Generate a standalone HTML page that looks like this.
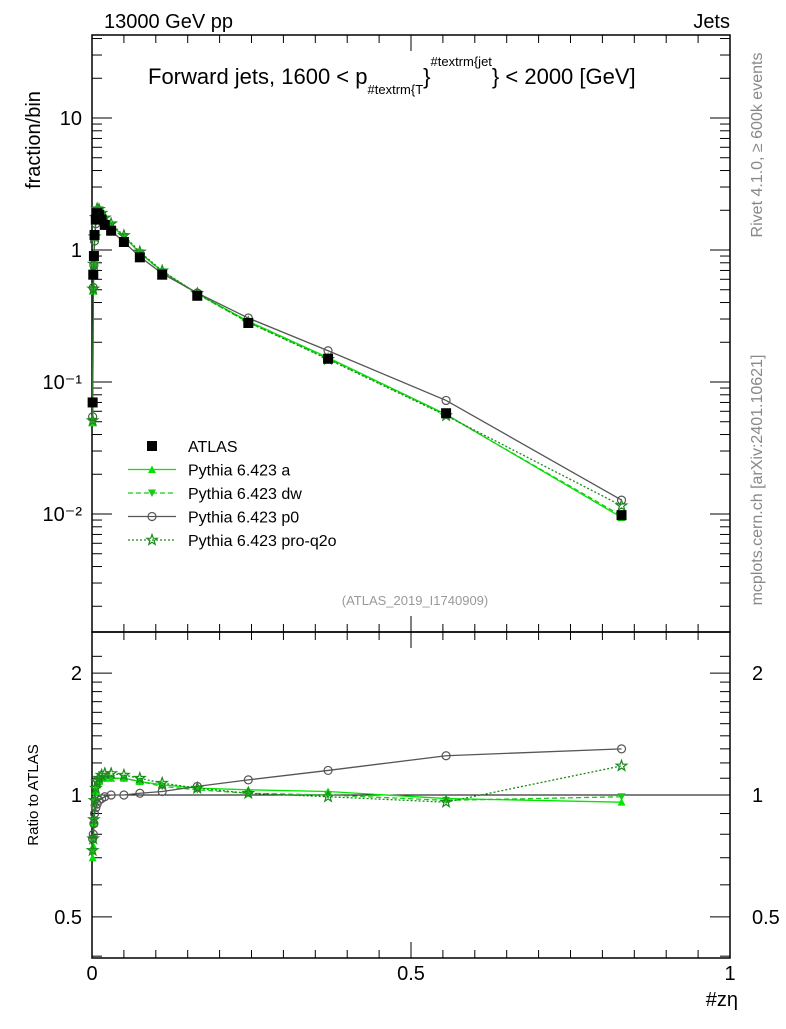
<!DOCTYPE html>
<html><head><meta charset="utf-8">
<style>
body{margin:0;background:#fff;}
svg text{font-family:"Liberation Sans",Arial,sans-serif;}
</style></head>
<body>
<svg id="chart" width="786" height="1024" viewBox="0 0 786 1024" xmlns="http://www.w3.org/2000/svg">
<g id="main"></g>
<g id="ratio"></g>
<text x="104" y="28" font-size="20">13000 GeV pp</text>
<text x="730" y="28" font-size="20" text-anchor="end">Jets</text>
<text x="148" y="84" font-size="22">Forward jets, 1600 &lt; p<tspan font-size="13" dy="10">#textrm{T</tspan><tspan font-size="22" dy="-10">}</tspan><tspan font-size="13" dy="-18">#textrm{jet</tspan><tspan font-size="22" dy="18">} &lt; 2000 [GeV]</tspan></text>
<text transform="translate(40,140) rotate(-90)" font-size="20" text-anchor="middle">fraction/bin</text>
<text transform="translate(38,795) rotate(-90)" font-size="15" text-anchor="middle">Ratio to ATLAS</text>
<text x="738" y="1006" font-size="20" text-anchor="end">#zη</text>
<text transform="translate(762,145) rotate(-90)" font-size="16" fill="#888" text-anchor="middle">Rivet 4.1.0, ≥ 600k events</text>
<text transform="translate(762,480) rotate(-90)" font-size="16" fill="#888" text-anchor="middle">mcplots.cern.ch [arXiv:2401.10621]</text>
<text x="415" y="605" font-size="13" fill="#999" text-anchor="middle">(ATLAS_2019_I1740909)</text>
</svg>
<script>
const xs    = [0.001,0.002,0.003,0.004,0.006,0.008,0.011,0.015,0.02,0.03,0.05,0.075,0.11,0.165,0.245,0.37,0.555,0.83];
const atlas = [0.07,0.65,0.9,1.3,1.7,1.9,1.85,1.7,1.55,1.4,1.15,0.88,0.65,0.45,0.28,0.15,0.058,0.0098];
const rA    = [0.7,0.75,0.85,0.95,1.02,1.06,1.08,1.1,1.1,1.1,1.1,1.08,1.06,1.04,1.03,1.02,0.98,0.96];
const rDW   = [0.72,0.77,0.86,0.96,1.02,1.06,1.08,1.1,1.1,1.1,1.1,1.08,1.05,1.03,1.01,1.0,0.97,0.99];
const rP0   = [0.78,0.8,0.85,0.9,0.93,0.95,0.97,0.98,0.99,1.0,1.0,1.01,1.02,1.05,1.09,1.15,1.25,1.3];
const rQ2O  = [0.73,0.78,0.87,0.97,1.04,1.08,1.1,1.12,1.13,1.13,1.12,1.1,1.07,1.04,1.01,0.99,0.96,1.18];
const xTicks = [0,0.5,1];
const mainTicks = [0.01,0.1,1,10];
const mainLbl = ["10⁻²","10⁻¹","1","10"];
const ratioTicks = [0.5,1,2];

const NS="http://www.w3.org/2000/svg";
const L=92,R=730,MT=35,MB=632,RT=632,RB=958;
const X=x=>L+(R-L)*x;
const YM=v=>250-132*Math.log10(v);
const YR=v=>795-405*Math.log10(v);
function mk(p,t,a){const e=document.createElementNS(NS,t);for(const k in a)e.setAttribute(k,a[k]);p.appendChild(e);return e;}
const main=document.getElementById('main'), ratio=document.getElementById('ratio');

let f1=mk(main,'rect',{x:L,y:MT,width:R-L,height:MB-MT,fill:'none',stroke:'#000','stroke-width':1.5});


let f2=mk(ratio,'rect',{x:L,y:RT,width:R-L,height:RB-RT,fill:'none',stroke:'#000','stroke-width':1.5});



for(let i=0;i<=20;i++){const x=X(i*0.05);const big=i%10==0;const l=big?16:8;
 for(const [y0,d] of [[MB,-1],[MT,1],[RB,-1],[RT,1]]) mk(main,'line',{x1:x,x2:x,y1:y0,y2:y0+d*l,stroke:'#000'});}
xTicks.forEach(t=>{const e=mk(ratio,'text',{x:X(t),y:980,'font-size':20,'text-anchor':'middle'});e.textContent=String(t);
 
 });
for(let d=-3;d<=1;d++)for(let m=1;m<10;m++){const v=m*Math.pow(10,d);const y=YM(v);if(y<MT||y>MB)continue;const l=m==1?20:10;
 mk(main,'line',{x1:L,x2:L+l,y1:y,y2:y,stroke:'#000'});mk(main,'line',{x1:R,x2:R-l,y1:y,y2:y,stroke:'#000'});}
mainTicks.forEach((t,i)=>{const e=mk(main,'text',{x:82,y:YM(t)+7,'font-size':20,'text-anchor':'end'});e.textContent=mainLbl[i];
 
 });
[0.4,0.5,0.6,0.7,0.8,0.9,1,1.1,1.2,1.3,1.4,1.5,1.6,1.7,1.8,1.9,2,2.2].forEach(v=>{const y=YR(v);if(y<RT||y>RB)return;const l=ratioTicks.includes(v)?20:10;
 mk(ratio,'line',{x1:L,x2:L+l,y1:y,y2:y,stroke:'#000'});mk(ratio,'line',{x1:R,x2:R-l,y1:y,y2:y,stroke:'#000'});});
ratioTicks.forEach(t=>{for(const [x,a] of [[82,'end'],[752,'start']]){const e=mk(ratio,'text',{x:x,y:YR(t)+7,'font-size':20,'text-anchor':a});e.textContent=String(t);
 
 }});
mk(ratio,'line',{x1:L,x2:R,y1:YR(1),y2:YR(1),stroke:'#000'});

const series=[
 {name:'pythia-a',r:rA,c:'#00e600',dash:'',m:'tri'},
 {name:'pythia-dw',r:rDW,c:'#19c819',dash:'5,3',m:'itri'},
 {name:'pythia-p0',r:rP0,c:'#555',dash:'',m:'circ'},
 {name:'pythia-pro-q2o',r:rQ2O,c:'#1a8a1a',dash:'2,2',m:'star'}];
function marker(g,m,x,y,c){
 if(m=='tri')mk(g,'path',{d:`M${x-4},${y+3.5}L${x+4},${y+3.5}L${x},${y-4}Z`,fill:c});
 else if(m=='itri')mk(g,'path',{d:`M${x-4},${y-3.5}L${x+4},${y-3.5}L${x},${y+4}Z`,fill:c});
 else if(m=='circ')mk(g,'circle',{cx:x,cy:y,r:4,fill:'none',stroke:c,'stroke-width':1.2});
 else if(m=='star'){let p='';for(let i=0;i<10;i++){const a=-Math.PI/2+i*Math.PI/5,r=i%2?2.2:5.5;p+=(i?'L':'M')+(x+r*Math.cos(a)).toFixed(1)+','+(y+r*Math.sin(a)).toFixed(1);}mk(g,'path',{d:p+'Z',fill:'none',stroke:c,'stroke-width':1.2});}
 else if(m=='sq')mk(g,'rect',{x:x-5,y:y-5,width:10,height:10,fill:c});
}
series.forEach(s=>{
 const gm=mk(main,'g',{});
 
 const gr=mk(ratio,'g',{});
 
 const vals=xs.map((x,i)=>atlas[i]*s.r[i]);
 mk(gm,'polyline',{points:xs.map((x,i)=>X(x)+','+YM(vals[i])).join(' '),fill:'none',stroke:s.c,'stroke-width':1.3,'stroke-dasharray':s.dash});
 mk(gr,'polyline',{points:xs.map((x,i)=>X(x)+','+YR(s.r[i])).join(' '),fill:'none',stroke:s.c,'stroke-width':1.3,'stroke-dasharray':s.dash});
 xs.forEach((x,i)=>{marker(gm,s.m,X(x),YM(vals[i]),s.c);marker(gr,s.m,X(x),YR(s.r[i]),s.c);});
});
const ga=mk(main,'g',{});

xs.forEach((x,i)=>marker(ga,'sq',X(x),YM(atlas[i]),'#000'));

const lg=mk(main,'g',{});

const entries=[['ATLAS',null],['Pythia 6.423 a',series[0]],['Pythia 6.423 dw',series[1]],['Pythia 6.423 p0',series[2]],['Pythia 6.423 pro-q2o',series[3]]];
entries.forEach((e,i)=>{const y=446+i*23.5;const g=mk(lg,'g',{});
 
 if(!e[1])marker(g,'sq',152,y,'#000');else{mk(g,'line',{x1:128,x2:176,y1:y,y2:y,stroke:e[1].c,'stroke-width':1.3,'stroke-dasharray':e[1].dash});marker(g,e[1].m,152,y,e[1].c);}
 const t=mk(g,'text',{x:188,y:y+6,'font-size':16});t.textContent=e[0];});
</script>
</body></html>
